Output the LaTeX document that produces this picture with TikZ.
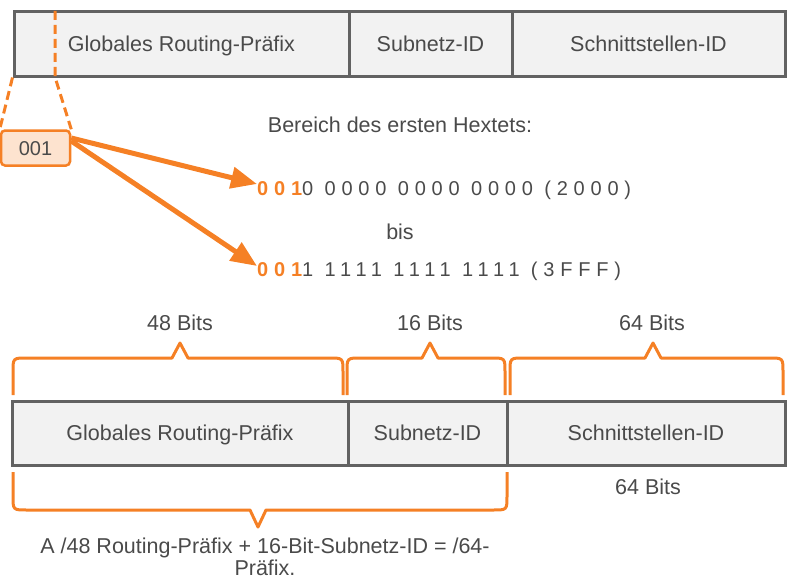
\documentclass[tikz,border=0pt]{standalone}
\usepackage{fontspec}
\setmainfont{Liberation Sans}
\usetikzlibrary{arrows.meta}
\definecolor{hexorange}{HTML}{F58025}
\definecolor{hexfill}{HTML}{FDE3CF}
\definecolor{barfill}{HTML}{F2F2F2}
\definecolor{bargray}{HTML}{626262}
\definecolor{textgray}{HTML}{4A4A4A}

\begin{document}
\begin{tikzpicture}[x=1pt,y=-1pt,>/.tip={Triangle[length=26pt,width=21pt]},
	field/.style={draw=bargray,line width=3pt,fill=barfill,minimum height=64pt,inner sep=0pt,text height=15.5pt,text depth=0pt,text=textgray,font=\fontsize{21.5}{25}\selectfont},
	lbl/.style={text=textgray,font=\fontsize{21.5}{22}\selectfont,inner sep=0pt},
	bitstr/.style={text=textgray,anchor=west,inner sep=0pt,font=\fontsize{20}{22}\selectfont\addfontfeature{LetterSpace=29}},
	zoomline/.style={draw=hexorange,line width=3pt,dash pattern=on 9pt off 5pt},
	brace/.style={draw=hexorange,line width=3pt,line join=round},
	pointer/.style={->,draw=hexorange,line width=5pt}]
	\useasboundingbox (0,0) rectangle (792,586);

	% address layout, top
	\node (gprefA) [field,minimum width=335pt] at (181.5,44) {Globales Routing-Präfix};
	\node (subA) [field,minimum width=163pt] at (430.5,44) {Subnetz-ID};
	\node (ifA) [field,minimum width=273pt] at (648.5,44) {Schnittstellen-ID};

	% first three bits
	\node (hexbox) [draw=hexorange,line width=2.5pt,fill=hexfill,rounded corners=4pt,minimum width=69pt,minimum height=35pt,text height=14.4pt,text depth=0pt,text=textgray,font=\fontsize{20}{22}\selectfont] at (35.5,148) {001};
	\coordinate (cut) at (55,11);
	\coordinate (cutbase) at (55,77);
	\draw[zoomline] (cut) -- (cutbase) -- (hexbox.north east);
	\draw[zoomline] (gprefA.south west) -- (hexbox.north west);

	\node (range) [lbl] at (400,125) {Bereich des ersten Hextets:};
	\node (bin1) [bitstr] at (257,190) {{\color{hexorange}\bfseries 001}0 0000 0000 0000 (2000)};
	\node (bis) [lbl] at (400,232) {bis};
	\node (bin2) [bitstr] at (257,271) {{\color{hexorange}\bfseries 001}1 1111 1111 1111 (3FFF)};

	\draw[pointer] ([yshift=10pt]hexbox.east) -- ([yshift=6pt]bin1.west);
	\draw[pointer] ([yshift=7pt]hexbox.east) -- ([yshift=5pt]bin2.west);

	% bit counts
	\node (bits48) [lbl] at (180,323) {48 Bits};
	\node (bits16) [lbl] at (430,323) {16 Bits};
	\node (bits64) [lbl] at (652,323) {64 Bits};
	\draw[brace] (13,395) -- (13,372) .. controls (13,358) .. (27,358) -- (172,358) -- (180,343) -- (188,358) -- (329,358) .. controls (343,358) .. (343,372) -- (343,395);
	\draw[brace] (347,395) -- (347,372) .. controls (347,358) .. (361,358) -- (422,358) -- (430,343) -- (438,358) -- (491,358) .. controls (505,358) .. (505,372) -- (505,395);
	\draw[brace] (510,395) -- (510,372) .. controls (510,358) .. (524,358) -- (645,358) -- (653,343) -- (661,358) -- (769,358) .. controls (783,358) .. (783,372) -- (783,395);

	% address layout, bottom
	\node (gprefB) [field,minimum width=336pt] at (180,433) {Globales Routing-Präfix};
	\node (subB) [field,minimum width=159pt] at (427.5,433) {Subnetz-ID};
	\node (ifB) [field,minimum width=278pt] at (646,433) {Schnittstellen-ID};

	\node (bits64b) [lbl] at (648,487) {64 Bits};
	\draw[brace] (13,472) -- (13,496) .. controls (13,510) .. (27,510) -- (250,510) -- (258,527) -- (266,510) -- (493,510) .. controls (507,510) .. (507,496) -- (507,472);
	\node (note) [lbl,align=center] at (265,557) {A /48 Routing-Präfix + 16-Bit-Subnetz-ID = /64-\\Präfix.};
\end{tikzpicture}
\end{document}
